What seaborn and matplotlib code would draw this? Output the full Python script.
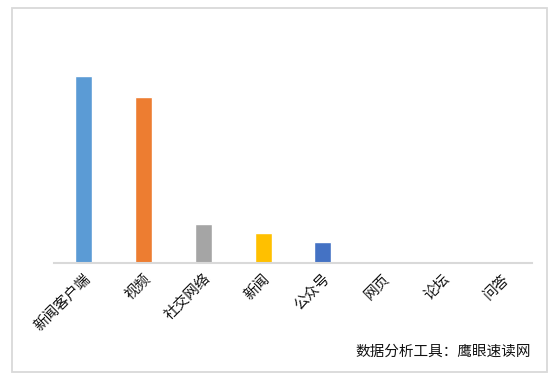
import matplotlib
matplotlib.use("Agg")
import matplotlib.pyplot as plt
import seaborn as sns
import pandas as pd
from matplotlib.patches import Rectangle

categories = ["新闻客户端", "视频", "社交网络", "新闻", "公众号", "网页", "论坛", "问答"]
values = [187, 166, 39, 30, 21, 0, 0, 0]
colors = ["#5B9BD5", "#ED7D31", "#A5A5A5", "#FFC000", "#4472C4", "#70AD47", "#264478", "#9E480E"]
source_text = "数据分析工具：鹰眼速读网"

sns.set_theme(style="white")
plt.rcParams['font.family'] = ['Noto Sans CJK SC', 'DejaVu Sans']

W, H = 554, 379
fig = plt.figure(figsize=(W / 100, H / 100), dpi=100)
fig.patch.set_facecolor("white")

# chart-area border
fig.add_artist(Rectangle((12 / W, 1 - 372 / H), (547 - 12) / W, (372 - 8) / H,
                         transform=fig.transFigure, fill=False,
                         edgecolor="#D9D9D9", linewidth=1.3))

left, right, top, bottom = 54, 532, 20, 263
ax = fig.add_axes([left / W, 1 - bottom / H, (right - left) / W, (bottom - top) / H])

df = pd.DataFrame({"cat": categories, "val": values})
sns.barplot(data=df, x="cat", y="val", hue="cat", palette=colors, legend=False,
            width=0.285, ax=ax, saturation=1)

ax.set_ylim(0, 243)
ax.set_xlim(-0.5, len(categories) - 0.5)
ax.set_xlabel("")
ax.set_ylabel("")
ax.set_yticks([])
for s in ["left", "right", "top"]:
    ax.spines[s].set_visible(False)
ax.spines["bottom"].set_color("#D9D9D9")
ax.spines["bottom"].set_linewidth(1.5)
ax.tick_params(axis="x", length=0, pad=6)
ax.set_xticks(range(len(categories)))
ax.set_xticklabels(categories, rotation=45, ha="right", rotation_mode="anchor",
                   fontsize=10.5, color="#111111")

fig.text(531 / W, 1 - 356 / H, source_text, ha="right", va="baseline",
         fontsize=10.5, color="#111111")

fig.savefig("out.png", dpi=100, facecolor="white")
